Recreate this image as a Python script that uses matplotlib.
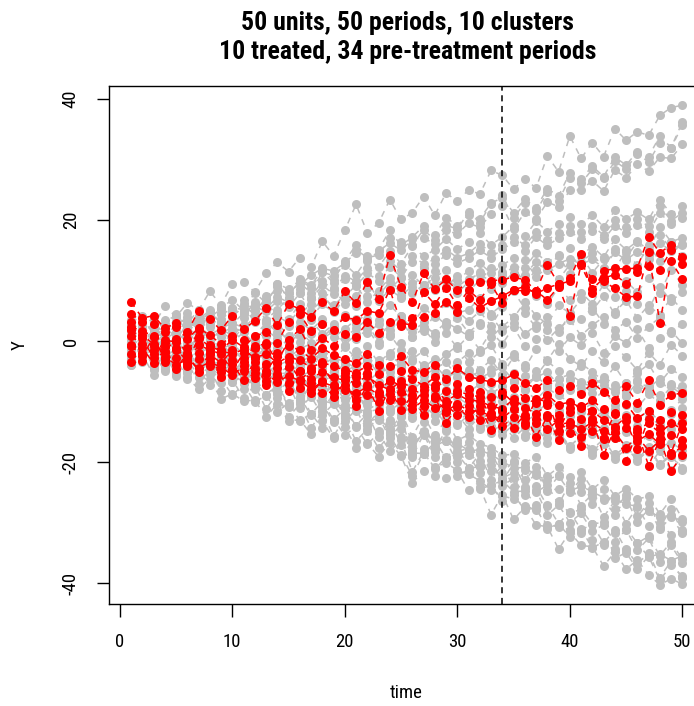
import numpy as np
import matplotlib
matplotlib.use("Agg")
import matplotlib.pyplot as plt

# time axis and treatment start
periods = list(range(1, 51))
treat_start = 34

# ---- control clusters (grey), one row of 50 values per unit ----
top_units = [
    [3.1, 4.2, 2.5, 5.8, 4.0, 6.3, 5.1, 8.2, 6.0, 9.4, 9.8, 8.1, 11.2, 13.0, 11.5, 13.8, 12.2, 16.5, 14.1, 18.3,
     22.6, 17.9, 19.5, 23.4, 20.1, 21.2, 23.9, 20.8, 24.5, 23.1, 25.0, 24.3, 28.2, 27.4, 25.1, 26.8, 25.3, 30.6, 28.0, 33.9,
     30.2, 32.8, 30.5, 35.1, 33.2, 34.6, 34.0, 37.3, 38.6, 39.0],
    [0.5, 1.2, -0.4, 2.1, 0.8, 3.5, 1.9, 4.0, 3.2, 4.7, 6.1, 4.3, 7.5, 8.2, 7.9, 9.6, 8.0, 11.4, 10.8, 12.5,
     15.1, 13.8, 14.2, 17.0, 16.3, 15.9, 18.4, 16.7, 19.2, 18.5, 21.3, 19.6, 22.7, 24.1, 20.3, 22.9, 21.5, 24.6, 23.2, 27.0,
     26.1, 28.4, 26.9, 29.7, 28.5, 31.0, 29.6, 32.8, 31.9, 35.7],
    [-0.8, 1.5, 0.2, 2.6, 1.1, 2.4, 3.0, 4.8, 2.9, 5.5, 5.2, 5.9, 6.4, 9.1, 8.0, 10.3, 9.2, 11.8, 10.1, 13.2,
     15.9, 14.0, 15.1, 18.3, 15.8, 17.2, 19.0, 17.5, 20.4, 19.1, 20.9, 20.2, 22.8, 23.7, 21.2, 23.5, 22.0, 25.2, 24.0, 27.8,
     26.8, 28.9, 27.2, 30.4, 29.1, 31.3, 30.5, 33.9, 32.0, 36.2],
    [1.6, 0.3, 1.8, 1.0, 2.5, 3.9, 2.2, 3.1, 4.6, 5.0, 6.8, 5.0, 7.0, 9.5, 8.6, 9.2, 10.9, 12.0, 11.6, 12.9,
     14.6, 13.2, 14.9, 16.2, 15.0, 16.8, 17.1, 16.0, 18.3, 17.7, 19.5, 18.8, 21.0, 22.3, 18.5, 21.3, 20.1, 23.0, 22.2, 24.9,
     25.0, 26.5, 24.8, 28.3, 27.0, 29.2, 28.1, 30.4, 30.2, 32.5],
]

upper_units = [
    [2.0, 2.9, 1.5, 3.4, 4.1, 2.8, 5.2, 4.0, 5.5, 6.8, 5.1, 8.0, 6.3, 9.4, 7.2, 10.1, 8.8, 11.5, 9.6, 12.7,
     11.0, 13.6, 12.2, 14.9, 12.8, 15.7, 14.0, 15.1, 16.9, 15.2, 16.4, 17.8, 15.9, 17.2, 19.0, 17.3, 19.8, 18.1, 19.4, 20.5,
     19.3, 20.8, 18.9, 21.6, 20.2, 21.3, 20.1, 23.4, 21.0, 22.3],
    [-1.2, 0.6, -0.9, 0.3, 1.5, -0.2, 2.4, 1.0, 2.1, 3.0, 2.2, 3.9, 3.1, 4.8, 3.6, 6.1, 4.4, 7.0, 5.9, 7.6,
     6.9, 8.7, 7.5, 9.8, 8.4, 10.9, 9.2, 10.5, 11.8, 10.1, 11.6, 12.9, 11.2, 12.5, 13.8, 12.1, 14.6, 13.0, 14.3, 15.4,
     14.2, 15.6, 13.9, 16.8, 15.1, 16.5, 15.0, 18.9, 16.4, 17.1],
    [0.9, 1.8, 0.4, 1.9, 2.7, 1.6, 3.9, 2.8, 3.6, 5.1, 3.8, 5.7, 4.9, 6.6, 5.8, 7.9, 6.9, 9.2, 7.8, 10.3,
     9.1, 11.2, 10.0, 12.3, 10.6, 13.1, 12.0, 12.8, 14.2, 12.9, 13.7, 15.0, 13.8, 15.2, 16.3, 14.9, 17.2, 15.8, 17.0, 18.1,
     16.9, 18.2, 16.8, 19.1, 17.9, 19.2, 18.0, 21.2, 19.3, 20.4],
    [-0.5, 0.2, -1.4, -0.3, 0.9, 0.1, 1.8, 0.6, 1.4, 2.2, 1.6, 3.5, 2.0, 4.1, 3.0, 5.2, 3.9, 6.1, 4.8, 6.9,
     5.8, 7.4, 6.6, 8.5, 7.2, 9.6, 8.1, 9.3, 10.2, 9.0, 10.3, 11.1, 9.8, 11.4, 12.0, 11.0, 13.1, 11.7, 12.8, 13.6,
     12.7, 13.5, 12.1, 14.7, 13.4, 14.8, 13.6, 16.2, 14.9, 15.8],
    [1.4, 2.3, 0.9, 2.5, 3.2, 2.0, 4.1, 3.3, 4.4, 5.3, 4.4, 6.5, 5.3, 7.3, 6.4, 8.6, 7.3, 9.9, 8.5, 10.8,
     9.9, 12.1, 10.8, 13.2, 11.7, 14.0, 12.8, 13.5, 15.1, 13.8, 14.5, 16.1, 14.6, 15.9, 17.2, 15.8, 18.0, 16.7, 17.9, 19.0,
     18.0, 19.1, 17.5, 20.0, 18.8, 20.1, 19.0, 22.3, 19.9, 21.2],
]

mid_high_units = [
    [3.5, 2.1, 4.0, 1.8, 3.1, 4.6, 2.5, 3.9, 5.3, 2.8, 4.6, 6.0, 3.5, 5.2, 7.1, 4.3, 6.2, 8.0, 5.1, 7.4,
     9.2, 6.5, 8.3, 10.5, 7.6, 9.0, 11.2, 8.4, 10.0, 7.9, 9.8, 11.5, 8.6, 10.9, 12.3, 9.5, 11.8, 13.0, 10.2, 12.6,
     14.1, 11.3, 13.5, 12.0, 14.8, 12.5, 15.9, 13.2, 16.3, 14.0],
    [1.2, -0.4, 1.9, 0.3, -1.0, 2.2, 0.8, -0.5, 1.6, 0.2, 2.4, 0.9, 3.0, 1.5, 0.4, 3.2, 1.8, 3.6, 2.1, 4.3,
     2.9, 4.8, 3.4, 5.9, 4.1, 2.7, 5.5, 4.0, 6.3, 4.6, 5.2, 7.1, 4.5, 6.0, 8.2, 5.4, 7.4, 6.1, 8.9, 6.8,
     8.0, 6.2, 9.4, 7.3, 9.9, 8.1, 10.5, 7.9, 11.8, 9.2],
    [-1.5, 0.6, -0.8, 1.4, -0.3, -1.6, 1.0, 0.1, -1.2, 1.7, 0.0, -0.8, 1.9, 0.4, 2.5, -0.2, 1.1, 2.9, 0.6, 2.0,
     3.6, 1.3, 2.8, 0.9, 3.9, 2.2, 1.6, 4.4, 2.6, 5.0, 3.3, 4.9, 2.5, 5.6, 3.8, 6.5, 4.2, 2.8, 5.9, 4.6,
     6.9, 5.0, 7.5, 4.4, 8.3, 6.1, 5.2, 9.0, 6.6, 8.1],
    [2.6, 3.9, 1.1, 2.9, 4.4, 1.3, 3.5, 5.1, 2.0, 4.0, 5.8, 3.1, 6.5, 4.0, 5.6, 7.9, 5.0, 6.8, 8.7, 6.1,
     7.4, 9.9, 6.8, 8.6, 10.4, 7.9, 9.3, 11.6, 8.9, 10.8, 8.2, 10.1, 12.0, 9.6, 11.3, 13.4, 10.6, 12.2, 14.1, 11.1,
     13.0, 14.6, 11.9, 15.3, 13.8, 16.4, 14.2, 17.6, 15.2, 16.0],
    [-2.4, -1.0, -3.0, -0.6, -2.1, -0.2, -1.8, 0.7, -1.3, -0.5, -2.1, 0.3, -1.6, 1.0, -0.9, 1.8, -0.3, 0.5, 2.4, -0.7,
     1.2, 2.8, -0.1, 1.9, 3.5, 0.6, 2.3, 1.4, 3.1, 2.0, 0.8, 2.6, 4.1, 1.7, 3.0, 4.7, 2.2, 3.9, 1.5, 4.4,
     3.6, 5.5, 2.9, 4.8, 6.7, 3.8, 5.9, 4.3, 7.2, 5.1],
]

mid_units = [
    [0.5, -1.3, 1.6, -0.9, 0.7, -2.0, 0.9, -1.4, -0.4, -2.3, -0.8, -2.6, -1.1, 0.2, -2.9, -1.2, -0.5, -2.4, -3.3, -1.0,
     -2.8, -0.9, -3.6, -1.9, -0.4, -3.0, -1.6, -4.1, -2.2, -0.8, -3.4, -1.8, -0.7, -3.8, -2.1, -4.5, -1.3, -3.2, -0.5, -2.9,
     -4.2, -1.6, -3.5, -0.9, -2.7, -4.8, -1.9, -3.9, -0.6, -2.4],
    [-1.8, 0.4, -0.6, -2.5, -0.1, 0.9, -1.7, 0.3, -2.2, -0.9, -2.7, -0.4, -1.9, -3.4, -1.5, -2.8, -4.0, -1.8, -2.5, -3.9,
     -1.6, -3.3, -4.7, -2.4, -3.8, -1.7, -4.4, -2.9, -5.2, -3.5, -2.0, -4.8, -3.1, -5.6, -2.6, -4.0, -5.8, -3.3, -4.9, -6.2,
     -3.7, -5.1, -6.6, -4.2, -7.0, -5.3, -3.8, -6.9, -4.6, -5.9],
    [2.3, 0.8, 3.1, 1.2, -0.5, 1.8, -0.7, 2.4, 0.6, -0.3, 1.5, -0.6, 0.8, 2.3, -0.1, 1.0, -1.3, 0.4, 1.6, -0.9,
     0.3, 2.0, -0.6, 1.1, -1.5, 0.7, 2.1, -0.2, 1.3, -1.1, 0.9, -1.4, 1.6, -0.5, 2.3, -0.8, 0.4, 1.8, -1.6, 0.6,
     -0.7, 1.4, -1.9, 0.8, -0.3, 2.0, -1.2, 0.5, 1.7, -0.4],
    [-0.2, -2.0, 0.5, -1.1, -2.6, -0.4, -1.9, -3.1, -0.8, -1.6, -3.0, -1.3, -2.7, -4.1, -2.0, -3.6, -2.4, -4.5, -3.1, -5.2,
     -3.9, -5.4, -3.2, -5.9, -4.6, -6.3, -4.0, -5.5, -6.8, -4.8, -6.0, -5.0, -7.1, -5.6, -6.7, -7.9, -5.8, -7.4, -6.3, -8.1,
     -7.0, -8.6, -6.4, -7.9, -9.1, -6.8, -8.4, -9.8, -7.5, -8.9],
    [1.0, 2.5, -0.3, 1.7, 0.2, 2.8, 1.4, -0.1, 2.0, 0.9, 2.6, 0.5, 1.9, 3.0, 0.8, 2.3, 3.4, 1.2, 2.8, 0.6,
     2.1, 3.6, 1.0, 2.6, 4.2, 1.5, 3.1, 0.8, 2.5, 3.8, 1.4, 3.0, 0.6, 2.4, 3.9, 1.1, 2.7, 0.2, 2.1, 3.5,
     0.9, 2.6, 4.0, 1.8, 3.2, 0.5, 2.4, 3.9, 1.3, 2.9],
]

mid_low_units = [
    [-0.9, -2.4, -1.1, -3.0, -2.2, -3.7, -2.8, -1.9, -4.0, -3.3, -4.5, -3.6, -5.2, -4.1, -3.2, -5.5, -4.6, -6.0, -4.9, -6.4,
     -5.7, -6.8, -5.1, -7.3, -6.2, -8.0, -6.6, -7.7, -5.9, -7.9, -8.5, -7.1, -8.8, -7.4, -9.2, -8.1, -9.7, -7.8, -9.0, -10.1,
     -8.6, -9.9, -8.2, -10.5, -9.1, -11.0, -8.8, -10.2, -11.4, -9.6],
    [0.4, -0.8, -2.5, -1.3, -0.6, -2.9, -1.6, -3.4, -2.0, -1.2, -3.1, -2.2, -1.5, -3.8, -2.7, -4.3, -3.0, -2.1, -4.6, -3.5,
     -4.2, -3.0, -5.4, -4.4, -3.6, -5.8, -4.9, -3.9, -6.1, -5.0, -5.5, -6.6, -4.7, -6.2, -5.3, -7.0, -6.0, -5.1, -7.3, -6.4,
     -7.8, -6.1, -7.2, -8.4, -6.9, -8.0, -7.5, -9.0, -7.1, -8.3],
    [-2.9, -1.6, -3.8, -2.7, -4.5, -1.8, -3.9, -4.6, -2.6, -4.9, -3.7, -5.6, -4.3, -6.5, -5.1, -4.0, -6.8, -5.3, -6.1, -7.4,
     -6.4, -7.9, -6.9, -8.6, -7.2, -9.1, -7.8, -8.4, -9.6, -8.0, -9.3, -10.4, -8.6, -9.9, -11.0, -9.5, -10.8, -9.0, -11.5, -10.3,
     -11.8, -10.1, -12.4, -11.2, -10.6, -12.9, -11.5, -13.3, -12.0, -11.0],
    [1.7, 0.2, -0.9, 0.8, -1.7, -0.5, -2.3, -0.9, -1.4, -2.7, -1.8, -3.0, -2.3, -1.2, -3.6, -2.5, -1.9, -3.9, -2.8, -3.4,
     -4.5, -2.9, -3.8, -5.1, -4.0, -3.3, -5.7, -4.6, -3.5, -5.9, -4.8, -6.1, -5.2, -4.3, -6.6, -5.7, -4.9, -7.1, -6.2, -5.5,
     -6.8, -7.6, -5.9, -7.2, -8.3, -6.5, -7.8, -6.2, -8.7, -7.4],
    [-3.9, -3.0, -4.8, -2.2, -3.5, -5.2, -3.1, -4.3, -5.8, -3.7, -5.3, -6.4, -4.8, -5.9, -7.0, -5.5, -6.6, -7.6, -6.3, -5.8,
     -7.2, -8.3, -6.7, -7.9, -9.0, -7.4, -8.6, -9.8, -8.1, -9.3, -10.5, -8.8, -9.9, -11.1, -9.4, -10.7, -12.0, -10.1, -11.6, -12.4,
     -11.2, -12.8, -11.6, -13.5, -12.3, -14.0, -12.6, -13.8, -14.5, -13.1],
]

low_units = [
    [1.3, -1.5, -0.9, -2.6, -0.4, -3.5, -1.8, -4.3, -2.1, -5.6, -2.9, -6.5, -3.8, -5.9, -6.8, -5.1, -7.9, -6.0, -8.8, -6.7,
     -9.6, -7.1, -10.4, -8.0, -10.9, -9.2, -11.8, -9.0, -12.7, -10.8, -13.0, -11.2, -14.1, -11.9, -14.5, -12.6, -15.3, -12.8, -16.1, -14.0,
     -16.0, -14.2, -17.1, -15.0, -17.6, -16.1, -18.3, -16.4, -19.2, -17.3],
    [-1.0, -0.8, -2.9, -1.4, -3.5, -2.0, -4.9, -2.8, -5.2, -3.7, -6.3, -4.2, -6.9, -5.5, -5.2, -8.3, -5.9, -9.1, -7.0, -9.8,
     -7.7, -10.1, -8.9, -11.4, -9.7, -12.6, -10.2, -13.3, -11.0, -13.9, -12.2, -14.6, -12.4, -15.5, -13.8, -15.9, -14.1, -16.8, -15.2, -17.5,
     -15.6, -18.4, -16.3, -19.0, -17.2, -19.6, -17.5, -20.4, -18.6, -21.0],
    [0.3, -2.4, -0.2, -3.3, -1.6, -2.9, -4.1, -2.5, -4.8, -3.9, -5.6, -4.2, -6.5, -5.3, -7.6, -5.9, -8.2, -7.1, -6.5, -9.4,
     -7.3, -10.2, -8.8, -11.0, -9.4, -11.9, -10.6, -12.3, -11.1, -13.6, -11.7, -14.0, -12.9, -14.8, -13.2, -15.6, -14.5, -16.0, -15.1, -17.3,
     -15.8, -17.9, -16.2, -18.6, -17.5, -19.8, -18.0, -20.5, -18.9, -21.3],
    [-2.6, 0.1, -3.0, -1.7, -3.8, -1.5, -4.4, -3.2, -5.8, -3.0, -6.1, -4.7, -6.6, -5.2, -7.9, -6.0, -8.6, -6.8, -9.4, -7.5,
     -9.1, -10.5, -9.3, -11.6, -10.1, -12.8, -11.5, -11.2, -13.9, -12.1, -14.5, -12.4, -15.2, -13.6, -16.0, -14.3, -16.7, -15.0, -15.4, -17.9,
     -16.2, -18.8, -16.9, -19.5, -17.8, -19.0, -20.6, -18.2, -21.4, -19.1],
    [2.0, 0.2, 0.9, -1.2, -0.1, -2.0, -1.1, -2.9, -1.6, -3.8, -2.4, -4.2, -3.5, -5.1, -4.4, -5.8, -5.0, -6.7, -5.6, -7.5,
     -6.3, -8.4, -6.9, -9.0, -7.8, -9.9, -8.6, -10.4, -9.5, -11.3, -10.1, -12.0, -10.8, -12.6, -11.4, -13.3, -12.2, -14.1, -12.9, -14.7,
     -13.6, -15.3, -14.4, -16.0, -15.1, -16.9, -15.7, -17.5, -16.8, -18.0],
]

lower_units = [
    [1.8, -1.0, 1.2, -1.9, 0.6, -2.7, -0.1, -3.5, -1.2, -4.4, -2.7, -5.2, -3.9, -6.4, -5.5, -7.3, -6.6, -9.2, -7.1, -10.5,
     -8.4, -11.5, -10.2, -11.8, -11.7, -15.8, -12.4, -15.6, -13.0, -16.4, -15.5, -17.0, -17.6, -18.9, -18.7, -20.1, -19.2, -22.3, -20.9, -22.4,
     -21.6, -24.5, -23.0, -25.6, -24.4, -26.1, -25.7, -28.6, -26.1, -29.4],
    [-0.6, -3.1, 0.4, -3.8, -0.7, -4.5, -1.6, -5.5, -2.7, -6.8, -3.6, -7.6, -4.8, -8.6, -6.5, -9.7, -7.5, -11.6, -8.6, -12.4,
     -9.9, -13.8, -11.7, -14.5, -12.5, -18.8, -13.4, -17.7, -14.8, -18.6, -16.7, -19.8, -18.5, -21.9, -19.8, -23.0, -20.8, -24.7, -22.3, -25.0,
     -22.8, -26.9, -24.4, -27.8, -25.5, -29.0, -26.7, -30.8, -27.7, -31.6],
    [-2.2, -0.8, -3.9, -1.9, -4.9, -2.8, -6.0, -4.1, -6.9, -4.9, -7.9, -6.0, -9.1, -7.2, -10.9, -8.2, -12.1, -10.0, -13.0, -11.2,
     -14.0, -12.0, -15.9, -13.1, -17.2, -18.4, -17.9, -16.4, -19.4, -17.3, -21.1, -18.6, -22.9, -20.5, -24.2, -21.4, -25.0, -23.8, -27.0, -23.5,
     -27.2, -25.3, -29.1, -26.4, -30.2, -27.4, -30.6, -30.1, -32.0, -31.3],
    [0.9, -0.6, -1.2, -1.7, -2.5, -2.8, -0.9, -5.1, -1.9, -4.9, -5.0, -5.6, -6.4, -7.0, -6.1, -10.1, -7.0, -9.9, -10.3, -10.9,
     -11.2, -11.7, -11.3, -15.2, -12.2, -16.7, -15.6, -16.0, -16.5, -16.9, -18.1, -18.0, -18.8, -19.9, -21.0, -20.9, -22.2, -23.0, -22.1, -24.8,
     -24.0, -24.9, -25.9, -26.0, -27.0, -27.3, -28.1, -29.1, -28.8, -29.9],
    [0.2, -2.8, -1.0, -4.1, -0.6, -4.9, -3.1, -3.8, -4.5, -5.2, -5.2, -6.0, -6.5, -7.3, -8.0, -7.9, -9.1, -10.1, -10.0, -11.0,
     -11.6, -12.4, -13.1, -13.3, -14.5, -17.4, -15.0, -18.3, -14.6, -19.1, -18.2, -20.6, -19.7, -23.2, -20.2, -24.1, -21.7, -24.8, -24.4, -24.4,
     -24.9, -25.8, -26.3, -28.7, -26.0, -29.9, -27.8, -31.1, -29.1, -31.8],
]

bottom_units = [
    [0.4, -2.6, 0.5, -3.2, -0.7, -4.4, -2.3, -5.5, -3.4, -6.7, -4.6, -7.9, -6.5, -9.4, -7.2, -11.1, -9.2, -12.2, -10.4, -13.3,
     -11.3, -14.8, -12.4, -16.1, -13.7, -19.2, -15.4, -19.1, -16.6, -20.0, -18.8, -21.8, -21.5, -23.9, -22.7, -25.5, -24.6, -28.8, -27.1, -30.0,
     -28.5, -31.4, -30.4, -33.2, -31.2, -34.6, -32.6, -36.5, -33.8, -36.7],
    [-2.8, -0.2, -4.5, -2.4, -5.4, -3.3, -7.1, -4.6, -8.3, -6.4, -9.4, -7.3, -11.2, -8.7, -12.6, -10.4, -14.4, -11.6, -15.7, -12.8,
     -16.5, -14.6, -17.7, -15.5, -18.8, -22.3, -18.6, -20.9, -20.1, -21.4, -22.0, -23.1, -24.6, -25.6, -26.1, -27.2, -27.9, -30.4, -30.7, -31.2,
     -31.8, -32.9, -33.7, -34.4, -34.4, -36.9, -35.0, -39.1, -36.4, -39.2],
    [-3.9, -2.2, -5.6, -4.6, -5.7, -5.9, -8.0, -6.2, -9.6, -8.7, -9.9, -9.8, -12.5, -10.4, -13.2, -13.0, -15.4, -13.2, -16.1, -14.2,
     -17.6, -16.9, -19.1, -16.8, -19.0, -23.4, -21.5, -22.3, -22.7, -21.5, -24.7, -24.2, -28.7, -25.4, -29.5, -27.5, -30.4, -30.7, -34.4, -31.6,
     -33.8, -34.0, -37.2, -34.9, -37.7, -36.2, -38.6, -40.3, -39.3, -40.2],
    [-0.2, 1.4, -2.2, -1.2, -3.2, -2.1, -5.3, -3.2, -5.9, -5.5, -6.8, -6.7, -8.9, -7.2, -10.5, -9.2, -12.3, -10.4, -13.4, -11.3,
     -14.2, -13.8, -14.9, -15.1, -15.9, -18.5, -18.6, -16.8, -19.4, -18.7, -21.0, -20.8, -23.8, -23.1, -24.9, -24.8, -27.1, -27.1, -30.2, -28.2,
     -31.2, -30.3, -33.4, -31.2, -34.5, -33.4, -35.7, -35.2, -36.3, -35.5],
    [-2.0, -3.5, -2.1, -4.9, -2.8, -6.3, -4.8, -7.2, -6.1, -9.0, -7.1, -10.1, -9.0, -11.7, -10.2, -13.2, -12.0, -14.4, -12.9, -15.6,
     -14.1, -17.1, -15.2, -18.2, -16.4, -21.6, -18.3, -21.2, -19.2, -22.3, -21.2, -24.5, -23.8, -26.5, -25.5, -27.9, -27.6, -31.0, -30.2, -32.4,
     -31.1, -34.2, -33.2, -35.9, -35.0, -37.7, -35.6, -39.5, -37.1, -38.9],
    [1.3, 0.0, 0.4, -1.5, -1.1, -2.4, -2.0, -4.2, -3.1, -5.4, -4.0, -6.5, -5.8, -8.1, -6.9, -9.2, -8.8, -10.9, -9.7, -12.1,
     -10.8, -13.3, -12.8, -14.5, -13.6, -18.0, -14.9, -17.4, -16.4, -18.2, -17.8, -20.5, -20.5, -22.6, -21.8, -24.3, -24.0, -27.3, -26.5, -28.5,
     -27.8, -30.3, -29.9, -31.8, -31.0, -33.4, -32.3, -35.5, -33.2, -36.1],
]

# ---- treated clusters (red) ----
treated_up_units = [
    [6.5, 3.8, 4.2, 2.1, 3.0, 1.5, 5.0, 3.6, 1.8, 4.2, 2.0, 3.3, 5.5, 2.6, 6.1, 5.3, 4.0, 6.5, 4.9, 8.2,
     6.3, 9.8, 7.0, 14.2, 8.9, 6.4, 11.2, 8.6, 10.2, 8.4, 9.7, 9.7, 10.0, 10.1, 10.6, 10.1, 8.3, 12.6, 9.4, 10.4,
     14.4, 7.9, 11.6, 12.0, 11.9, 12.1, 17.2, 14.6, 15.9, 13.9],
    [3.2, 1.0, -0.5, -1.8, 0.4, -2.1, 1.8, -0.6, -1.5, 0.2, -1.0, 0.8, 1.5, -0.3, 3.2, 4.5, 1.6, 2.8, 1.9, 4.0,
     3.5, 5.0, 4.6, 8.5, 3.0, 2.6, 8.1, 6.1, 8.8, 5.9, 8.4, 6.8, 9.4, 6.3, 8.4, 8.3, 8.3, 6.8, 9.0, 4.2,
     12.7, 10.3, 9.9, 8.7, 7.3, 7.4, 14.7, 3.0, 13.2, 10.2],
    [-0.8, -2.5, 0.6, -3.0, -1.2, -3.4, 0.5, -2.2, -3.6, -1.5, -2.8, -0.9, -0.4, -3.5, 0.1, 2.0, -1.5, 0.5, -0.8, 1.2,
     0.7, 3.1, 1.4, 3.2, 2.5, 3.8, 3.9, 4.6, 6.5, 4.8, 7.2, 5.5, 6.6, 7.4, 8.5, 9.0, 7.8, 8.8, 9.4, 9.9,
     12.5, 8.6, 10.4, 11.0, 9.5, 11.5, 12.4, 11.8, 15.0, 12.8],
]

treated_down_units = [
    [4.5, 3.2, 2.8, 1.5, 2.3, 0.4, 2.1, 1.0, -0.5, 0.8, 0.2, -1.1, -0.6, -2.0, -0.8, -1.5, -2.9, -1.2, -2.3, -3.0,
     -3.6, -2.1, -3.9, -4.2, -2.5, -4.8, -5.1, -3.9, -6.2, -4.5, -5.9, -6.3, -6.8, -6.5, -5.5, -7.0, -7.8, -6.4, -8.1, -7.5,
     -8.8, -6.9, -8.4, -9.8, -7.5, -10.2, -6.5, -10.5, -8.9, -8.6],
    [2.4, 1.6, 0.9, -0.3, 0.2, -1.2, 0.5, -0.9, -1.6, -2.1, -1.4, -2.8, -2.1, -3.6, -2.6, -3.2, -4.4, -3.5, -4.2, -4.8,
     -5.2, -4.1, -5.5, -6.6, -5.0, -6.2, -7.4, -6.0, -8.3, -7.1, -8.0, -8.4, -9.2, -9.0, -7.8, -9.4, -10.3, -8.9, -10.5, -10.1,
     -11.0, -9.8, -11.3, -12.1, -10.4, -12.8, -11.5, -13.0, -11.8, -12.2],
    [0.8, -0.5, -0.9, -1.8, -1.5, -2.6, -1.9, -2.8, -3.7, -3.2, -3.5, -4.6, -3.8, -5.4, -4.3, -5.0, -6.2, -5.1, -6.0, -6.5,
     -6.9, -5.8, -7.2, -8.1, -6.6, -7.9, -9.0, -7.8, -9.9, -8.8, -9.8, -9.9, -10.8, -11.2, -9.6, -11.0, -12.0, -10.6, -12.3, -11.8,
     -12.9, -11.6, -13.0, -14.2, -12.5, -14.6, -13.6, -15.2, -13.6, -14.5],
    [-0.6, -1.9, -2.2, -3.4, -2.8, -4.1, -3.0, -4.2, -5.1, -4.6, -4.9, -6.1, -5.4, -6.8, -5.7, -6.6, -7.9, -6.8, -7.5, -8.1,
     -8.6, -7.6, -8.9, -9.8, -8.5, -9.5, -10.7, -9.4, -11.6, -10.4, -11.5, -11.6, -12.4, -12.8, -11.2, -12.7, -13.5, -12.2, -13.9, -13.4,
     -14.6, -13.4, -14.8, -16.0, -14.3, -16.5, -15.4, -17.0, -15.5, -16.3],
    [-2.1, -3.3, -1.5, -2.6, -3.9, -3.1, -4.4, -3.5, -4.3, -5.6, -4.2, -5.3, -6.6, -5.9, -6.9, -7.8, -7.0, -8.6, -8.4, -7.2,
     -9.7, -8.9, -10.1, -8.7, -9.9, -11.2, -9.8, -11.0, -10.6, -12.2, -10.8, -13.0, -11.9, -14.1, -12.6, -13.9, -12.9, -14.6, -13.1, -15.2,
     -15.9, -14.8, -16.2, -15.1, -17.6, -15.8, -18.1, -16.5, -18.8, -17.4],
    [-3.4, -1.2, -3.6, -1.0, -4.6, -2.0, -5.1, -1.9, -6.0, -3.8, -6.4, -3.4, -7.2, -4.4, -8.3, -4.9, -8.6, -6.6, -9.3, -6.0,
     -10.8, -7.2, -11.5, -7.9, -11.4, -9.0, -12.3, -9.1, -13.5, -10.9, -12.6, -10.8, -14.7, -11.6, -14.3, -12.2, -15.8, -12.5, -16.4, -13.8,
     -17.3, -12.9, -18.9, -14.4, -19.8, -15.0, -20.6, -16.2, -21.5, -18.8],
    [1.8, 0.5, -2.8, 0.2, -0.2, -3.8, -0.6, -1.5, -2.1, -5.0, -1.9, -2.6, -5.0, -2.4, -3.3, -6.4, -5.0, -3.8, -7.2, -5.2,
     -6.0, -5.2, -8.4, -6.4, -7.5, -10.6, -8.1, -7.2, -11.8, -8.2, -8.9, -9.2, -12.6, -8.5, -10.2, -13.6, -9.6, -10.0, -14.8, -11.0,
     -10.7, -11.6, -16.1, -11.9, -13.2, -17.8, -12.9, -14.3, -18.5, -13.6],
]

control = (top_units + upper_units + mid_high_units + mid_units
           + mid_low_units + low_units + lower_units + bottom_units)
treated = treated_up_units + treated_down_units

plt.rcParams['font.family'] = ['Roboto Condensed', 'DejaVu Sans']
plt.rcParams['axes.unicode_minus'] = False

fig = plt.figure(figsize=(6.94, 7.06), dpi=100)
ax = fig.add_axes([0.157, 0.1445, 0.858, 0.7337])

line_kw = dict(linestyle=(0, (4, 4)), linewidth=1.1, marker='o', markersize=6.5,
               markeredgewidth=0)
for y in control:
    ax.plot(periods, y, color='#bebebe', **line_kw)
for y in treated:
    ax.plot(periods, y, color='red', **line_kw)

ax.axvline(treat_start, color='black', linestyle=(0, (4, 3)), linewidth=1.1)

# R style 4% padding
allv = np.array(control + treated)
lo, hi = allv.min(), allv.max()
ax.set_xlim(1 - 0.04 * 49, 50 + 0.04 * 49)
ax.set_ylim(lo - 0.04 * (hi - lo), hi + 0.04 * (hi - lo))

ax.set_xticks([0, 10, 20, 30, 40, 50])
ax.set_yticks([-40, -20, 0, 20, 40])
ax.tick_params(direction='out', length=9, width=1, labelsize=13.5, pad=12)
for lab in ax.get_yticklabels():
    lab.set_rotation(90)
    lab.set_va('center')
for s in ax.spines.values():
    s.set_linewidth(1)

ax.set_xlabel('time', fontsize=13.5, labelpad=24)
ax.set_ylabel('Y', fontsize=13.5, labelpad=24)

fig.suptitle('50 units, 50 periods, 10 clusters\n10 treated, 34 pre-treatment periods',
             x=0.587, y=0.985, fontsize=18.5, fontweight='bold', linespacing=1.3)

fig.savefig('out.png', dpi=100)
